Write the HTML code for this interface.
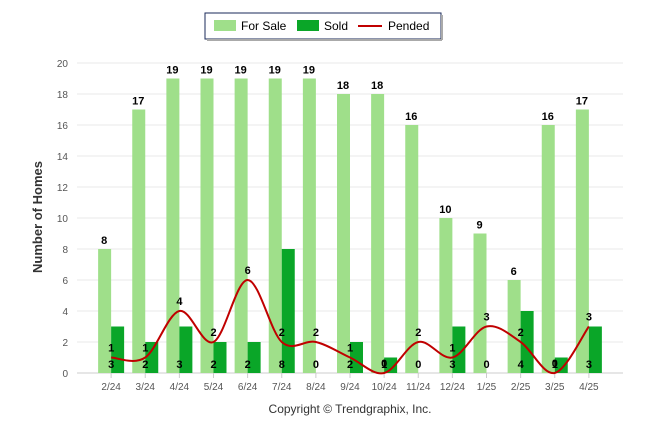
<!DOCTYPE html>
<html><head><meta charset="utf-8"><style>
body{margin:0;background:#fff;font-family:"Liberation Sans",sans-serif}
svg text{font-family:"Liberation Sans",sans-serif}
</style></head><body>
<svg id="c" width="646" height="434">
<rect x="205" y="13" width="236" height="26" fill="#fff" stroke="#1a2a5a" stroke-width="1"/>
<line x1="207" y1="40" x2="442" y2="40" stroke="#aaa" stroke-width="2"/>
<line x1="442" y1="15" x2="442" y2="40" stroke="#aaa" stroke-width="2"/>
<g><rect x="214" y="20" width="22" height="11" fill="#9fdf8a"/><text x="241" y="30" font-size="12">For Sale</text></g>
<g><rect x="297" y="20" width="22" height="11" fill="#0aa628"/><text x="324" y="30" font-size="12">Sold</text></g>
<g><line x1="358" y1="26" x2="382" y2="26" stroke="#c00000" stroke-width="2"/><text x="388" y="30" font-size="12">Pended</text></g>
<text transform="translate(42,217) rotate(-90)" text-anchor="middle" font-size="13" font-weight="bold" fill="#333">Number of Homes</text>
<text x="350" y="413" text-anchor="middle" font-size="12" fill="#333">Copyright © Trendgraphix, Inc.</text>
<g id="grid"></g><g id="bars"></g><g id="line"></g><g id="labels"></g>
</svg>
<script>
const categories=["2/24","3/24","4/24","5/24","6/24","7/24","8/24","9/24","10/24","11/24","12/24","1/25","2/25","3/25","4/25"];
const forSale=[8,17,19,19,19,19,19,18,18,16,10,9,6,16,17];
const sold=[3,2,3,2,2,8,0,2,1,0,3,0,4,1,3];
const pended=[1,1,4,2,6,2,2,1,0,2,1,3,2,0,3];
const yTicks=[0,2,4,6,8,10,12,14,16,18,20];
const NS="http://www.w3.org/2000/svg";
const L=77,R=623,Y0=373,Y1=63,YMAX=20;
const band=(R-L)/(categories.length+1);
const x=i=>L+band*(i+1);
const y=v=>Y0-(v/YMAX)*(Y0-Y1);
function mk(t,a,p){const e=document.createElementNS(NS,t);for(const k in a)e.setAttribute(k,a[k]);p.appendChild(e);return e;}
const g=document.getElementById('grid'),b=document.getElementById('bars'),ln=document.getElementById('line'),lb=document.getElementById('labels');
yTicks.forEach(v=>{
 const l=mk('line',{x1:L,x2:R,y1:y(v),y2:y(v),stroke:v===0?'#ccc':'#e8e8e8'},g);
 
 
 const t=mk('text',{x:68,y:y(v)+4,'text-anchor':'end','font-size':10,fill:'#555'},g);t.textContent=v;
 
 
});
categories.forEach((c,i)=>{
 mk('line',{x1:x(i),x2:x(i),y1:Y0,y2:Y0+5,stroke:'#ccc'},g);
 const t=mk('text',{x:x(i),y:390,'text-anchor':'middle','font-size':10,fill:'#555'},g);t.textContent=c;
 
 
 const r1=mk('rect',{x:x(i)-13,y:y(forSale[i]),width:13,height:Y0-y(forSale[i]),fill:'#9fdf8a'},b);
 
 
 const r2=mk('rect',{x:x(i),y:y(sold[i]),width:13,height:Y0-y(sold[i]),fill:'#0aa628'},b);
 
 
 const t1=mk('text',{x:x(i)-7,y:y(forSale[i])-5,'text-anchor':'middle','font-size':11,'font-weight':'bold'},lb);t1.textContent=forSale[i];
 
 
 const t2=mk('text',{x:x(i),y:368,'text-anchor':'middle','font-size':11,'font-weight':'bold'},lb);t2.textContent=sold[i];
 
 
 const t3=mk('text',{x:x(i),y:y(pended[i])-6,'text-anchor':'middle','font-size':11,'font-weight':'bold'},lb);t3.textContent=pended[i];
 
 
});
const pts=pended.map((v,i)=>[x(i),y(v)]);
let d=`M${pts[0][0]},${pts[0][1]}`;
for(let i=0;i<pts.length-1;i++){
 const p0=pts[Math.max(0,i-1)],p1=pts[i],p2=pts[i+1],p3=pts[Math.min(pts.length-1,i+2)];
 const s=1/3;
 const c1=[p1[0]+(p2[0]-p0[0])*s/2*1.0,p1[1]+(p2[1]-p0[1])*s/2*1.0];
 const c2=[p2[0]-(p3[0]-p1[0])*s/2,p2[1]-(p3[1]-p1[1])*s/2];
 d+=` C${c1[0]},${c1[1]} ${c2[0]},${c2[1]} ${p2[0]},${p2[1]}`;
}
const path=mk('path',{d:d,fill:'none',stroke:'#c00000','stroke-width':2},ln);


</script>
</body></html>
